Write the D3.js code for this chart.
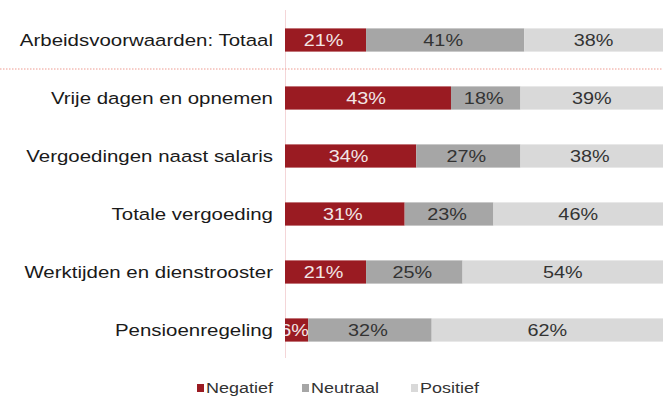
<!DOCTYPE html>
<html>
<head>
<meta charset="utf-8">
<script src="https://cdn.jsdelivr.net/npm/d3@7"></script>
<style>
  body { margin: 0; background: #fff; }
  svg { display: block; font-family: "Liberation Sans", Arial, sans-serif; }
</style>
</head>
<body>
<div id="chart"></div>
<script>
var categories = [
  "Arbeidsvoorwaarden: Totaal",
  "Vrije dagen en opnemen",
  "Vergoedingen naast salaris",
  "Totale vergoeding",
  "Werktijden en dienstrooster",
  "Pensioenregeling"
];
var negatief = [21, 43, 34, 31, 21, 6];
var neutraal = [41, 18, 27, 23, 25, 32];
var positief = [38, 39, 38, 46, 54, 62];
var seriesNames = ["Negatief", "Neutraal", "Positief"];

var width = 663,
  height = 403,
  margin = { top: 11, right: -8, bottom: 44, left: 285 },
  stretch = 1.24, // the original text looks a bit wider than normal
  colour = d3.scaleOrdinal()
    .domain(seriesNames)
    .range(["#9a1b22", "#a6a6a6", "#d9d9d9"]),
  textColour = d3.scaleOrdinal()
    .domain(seriesNames)
    .range(["#f2e6e6", "#333333", "#333333"]);

var rows = categories.map(function(c, i) {
  return { cat: c, Negatief: negatief[i], Neutraal: neutraal[i], Positief: positief[i] };
});

var stack = d3.stack().keys(seriesNames);
var series = stack(rows);

var x = d3.scaleLinear()
  .domain([0, 100])
  .range([margin.left, width - margin.right]);

var y = d3.scaleBand()
  .domain(categories)
  .range([margin.top, height - margin.bottom])
  .paddingInner(0.6)
  .paddingOuter(0.3);

var svg = d3.select('#chart')
  .append('svg')
  .attr('width', width)
  .attr('height', height);

svg.append('defs').append('clipPath')
  .attr('id', 'plot-clip')
  .append('rect')
  .attr('x', margin.left)
  .attr('y', 0)
  .attr('width', width - margin.left)
  .attr('height', height);

// vertical axis line
svg.append('line')
  .attr('x1', x(0) + 0.5)
  .attr('x2', x(0) + 0.5)
  .attr('y1', 10)
  .attr('y2', 358)
  .attr('stroke', '#f4d6d8')
  .attr('stroke-width', 1);

// dotted separator under the total row
var sepY = (y(categories[0]) + y.bandwidth() + y(categories[1])) / 2;
svg.append('line')
  .attr('x1', 0)
  .attr('x2', width)
  .attr('y1', sepY)
  .attr('y2', sepY)
  .attr('stroke', '#ee9a90')
  .attr('stroke-width', 1)
  .attr('stroke-dasharray', '1.5,1.5');

var plot = svg.append('g').attr('clip-path', 'url(#plot-clip)');

var groups = plot.selectAll('g.series')
  .data(series)
  .enter()
  .append('g')
  .attr('class', 'series');

groups.selectAll('rect')
  .data(function(s) { return s.map(function(d) { return { key: s.key, d: d }; }); })
  .enter()
  .append('rect')
  .attr('x', function(o) { return x(o.d[0]); })
  .attr('width', function(o) { return x(o.d[1]) - x(o.d[0]); })
  .attr('y', function(o) { return y(o.d.data.cat); })
  .attr('height', y.bandwidth())
  .attr('fill', function(o) { return colour(o.key); });

groups.selectAll('text')
  .data(function(s) { return s.map(function(d) { return { key: s.key, d: d }; }); })
  .enter()
  .append('text')
  .attr('transform', function(o) {
    var cx = (x(o.d[0]) + x(o.d[1])) / 2 - (o.key === 'Positief' ? 4 : 2);
    var cy = y(o.d.data.cat) + y.bandwidth() / 2;
    return 'translate(' + cx + ',' + cy + ') scale(' + stretch + ',1)';
  })
  .attr('dy', '0.36em')
  .attr('text-anchor', 'middle')
  .attr('font-size', '16px')
  .attr('fill', function(o) { return textColour(o.key); })
  .text(function(o) { return (o.d[1] - o.d[0]) + '%'; });

// category labels
svg.selectAll('text.cat')
  .data(categories)
  .enter()
  .append('text')
  .attr('class', 'cat')
  .attr('transform', function(c) {
    return 'translate(273,' + (y(c) + y.bandwidth() / 2) + ') scale(' + stretch + ',1)';
  })
  .attr('dy', '0.36em')
  .attr('text-anchor', 'end')
  .attr('font-size', '16.5px')
  .attr('fill', '#1a1a1a')
  .text(function(c) { return c; });

// legend
var legendX = [197, 302, 411];
var legend = svg.selectAll('g.legend')
  .data(seriesNames)
  .enter()
  .append('g')
  .attr('class', 'legend')
  .attr('transform', function(d, i) { return 'translate(' + legendX[i] + ',388)'; });

legend.append('rect')
  .attr('x', 0)
  .attr('y', -4)
  .attr('width', 7)
  .attr('height', 8)
  .attr('fill', function(d) { return colour(d); });

legend.append('text')
  .attr('transform', 'translate(9,0) scale(' + stretch + ',1)')
  .attr('dy', '0.36em')
  .attr('font-size', '14.5px')
  .attr('fill', '#333')
  .text(function(d) { return d; });
</script>
</body>
</html>
